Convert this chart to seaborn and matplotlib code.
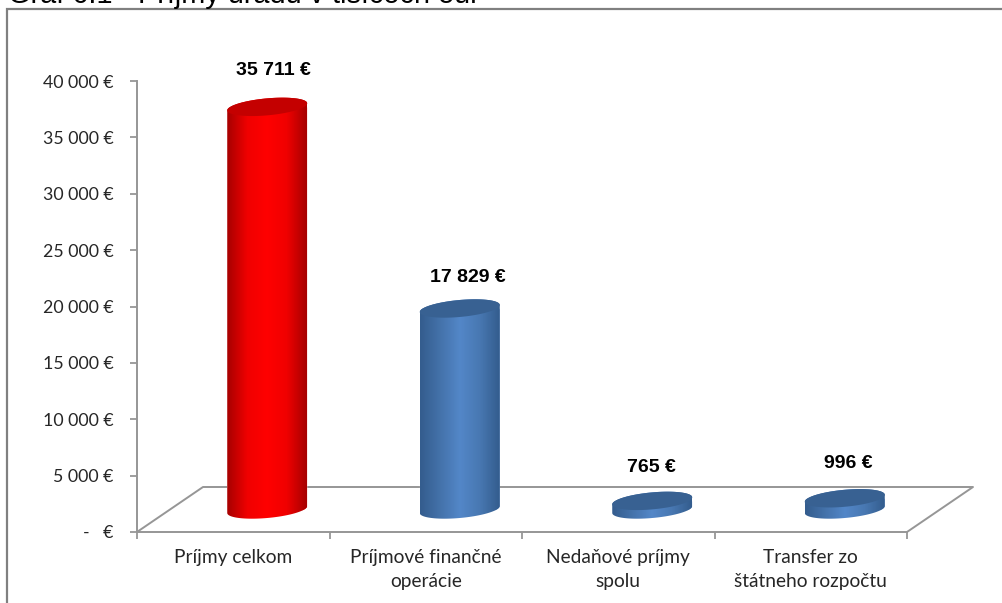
import numpy as np
import pandas as pd
import matplotlib
matplotlib.use('Agg')
import matplotlib.pyplot as plt
import seaborn as sns
from matplotlib.colors import LinearSegmentedColormap
from matplotlib.patches import Polygon, Rectangle

# ===== DATA =====
categories = ['Príjmy celkom', 'Príjmové finančné\noperácie', 'Nedaňové príjmy\nspolu', 'Transfer zo\nštátneho rozpočtu']
values = [35711, 17829, 765, 996]
value_labels = ['35 711 €', '17 829 €', '765 €', '996 €']
y_ticks = [0, 5000, 10000, 15000, 20000, 25000, 30000, 35000, 40000]
y_tick_labels = ['-   €', '5 000 €', '10 000 €', '15 000 €', '20 000 €', '25 000 €', '30 000 €', '35 000 €', '40 000 €']
title = 'Graf 6.1 - Príjmy úradu v tisícoch eur'

# ===== COLORS =====
GRAY = '#969696'
FRAME = '#808080'
side_colors = [['#a80000', '#f00000', '#ff0000', '#f00000', '#a80000'],
               ['#345d8e', '#4472aa', '#5387c8', '#4878b2', '#345d8e']]
top_colors = ['#c40000', '#386192']
series_index = [0, 1, 1, 1]

# ===== LAYOUT (pixels) =====
W, H = 1002, 603
AX_L, AX_R, AX_T, AX_B = 137, 907, 81, 532
PX_X = 4 / (AX_R - AX_L)        # category units per pixel
PX_Y = 40000 / (AX_B - AX_T)    # euro per pixel
BAR_DX, BAR_DY = 34, 22.5       # bars stand in the middle of the floor
FLOOR_DX, FLOOR_DY = 66, 45
RX, RY, TILT = 40, 8.5, 3.5
label_shift = [(6, 36), (8, 31), (-1, 33), (4, 35)]

sns.set_theme(style='white')
plt.rcParams['font.family'] = ['Lato', 'DejaVu Sans']

fig = plt.figure(figsize=(W / 100, H / 100), dpi=100, facecolor='white')
ax = fig.add_axes([AX_L / W, 1 - AX_B / H, (AX_R - AX_L) / W, (AX_B - AX_T) / H])
ax.patch.set_alpha(0)

df = pd.DataFrame({'cat': categories, 'value': values})
palette = [side_colors[i][2] for i in series_index]
sns.barplot(data=df, x='cat', y='value', hue='cat', palette=palette, saturation=1,
            legend=False, width=2 * RX * PX_X, ax=ax, zorder=2)
ax.set_xlim(-0.5, 3.5)
ax.set_ylim(0, 40000)
ax.set_xlabel('')
ax.set_ylabel('')


def ellipse(cx, cy, t):
    return np.column_stack([cx + RX * PX_X * np.cos(t),
                            cy + (RY * np.sin(t) + TILT * np.cos(t)) * PX_Y])


# ===== CYLINDERS =====
bars = list(ax.patches)
for i, (bar, value) in enumerate(zip(bars, values)):
    bar.set_x(bar.get_x() + BAR_DX * PX_X)
    bar.set_y(BAR_DY * PX_Y)
    cx = bar.get_x() + bar.get_width() / 2
    base = bar.get_y()
    top = base + value

    # outline: front half of the base, back half of the top
    outline = np.vstack([ellipse(cx, base, np.linspace(np.pi, 2 * np.pi, 60)),
                         ellipse(cx, top, np.linspace(0, np.pi, 60))])
    clip = Polygon(outline, transform=ax.transData)
    bar.set_clip_path(clip)

    cmap = LinearSegmentedColormap.from_list('side', side_colors[series_index[i]])
    extent = (cx - RX * PX_X, cx + RX * PX_X, base - 15 * PX_Y, top + 15 * PX_Y)
    im = ax.imshow(np.linspace(0, 1, 80).reshape(1, -1), cmap=cmap, extent=extent,
                   aspect='auto', zorder=3, interpolation='bilinear')
    im.set_clip_path(clip)

    ax.add_patch(Polygon(ellipse(cx, top, np.linspace(0, 2 * np.pi, 120)),
                         facecolor=top_colors[series_index[i]], edgecolor='none', zorder=4))

    dx, dy = label_shift[i]
    ax.annotate(value_labels[i], xy=(cx, top), xytext=(dx * 0.72, dy * 0.72),
                textcoords='offset points', ha='center', va='center', fontsize=14,
                fontweight='bold', family='Liberation Sans', color='black', zorder=5)

ax.set_xlim(-0.5, 3.5)
ax.set_ylim(0, 40000)

# ===== FLOOR =====
floor_x = [-0.5, -0.5 + FLOOR_DX * PX_X, 3.5 + FLOOR_DX * PX_X, 3.5]
floor_y = [0, FLOOR_DY * PX_Y, FLOOR_DY * PX_Y, 0]
ax.plot(floor_x, floor_y, color=GRAY, lw=1.4, clip_on=False, zorder=1)

# ===== AXES =====
sns.despine(ax=ax)
for side in ['left', 'bottom']:
    ax.spines[side].set_color(GRAY)
    ax.spines[side].set_linewidth(1.4)
ax.set_yticks(y_ticks, y_tick_labels)
ax.set_xticks(range(len(categories)), categories)
ax.set_xticks(np.arange(-0.5, 4), minor=True)
ax.tick_params(axis='y', length=5, width=1.3, color=GRAY, pad=12, labelsize=12.8, labelcolor='#262626', left=True)
ax.tick_params(axis='x', which='major', length=0, pad=12, labelsize=13.8, labelcolor='#262626')
ax.tick_params(axis='x', which='minor', length=5, width=1.3, color=GRAY, bottom=True)
for lab in ax.get_xticklabels():
    lab.set_linespacing(1.5)

# ===== FRAME & TITLE =====
fig.add_artist(Rectangle((7 / W, -0.05), 1.1, 1.05 - 9 / H, transform=fig.transFigure,
                         facecolor='none', edgecolor=FRAME, lw=1.6))
fig.text(8 / W, 1 - 3 / H, title, fontsize=20.8, family='Liberation Sans', color='black',
         ha='left', va='baseline')

fig.savefig('out.png', dpi=100)
